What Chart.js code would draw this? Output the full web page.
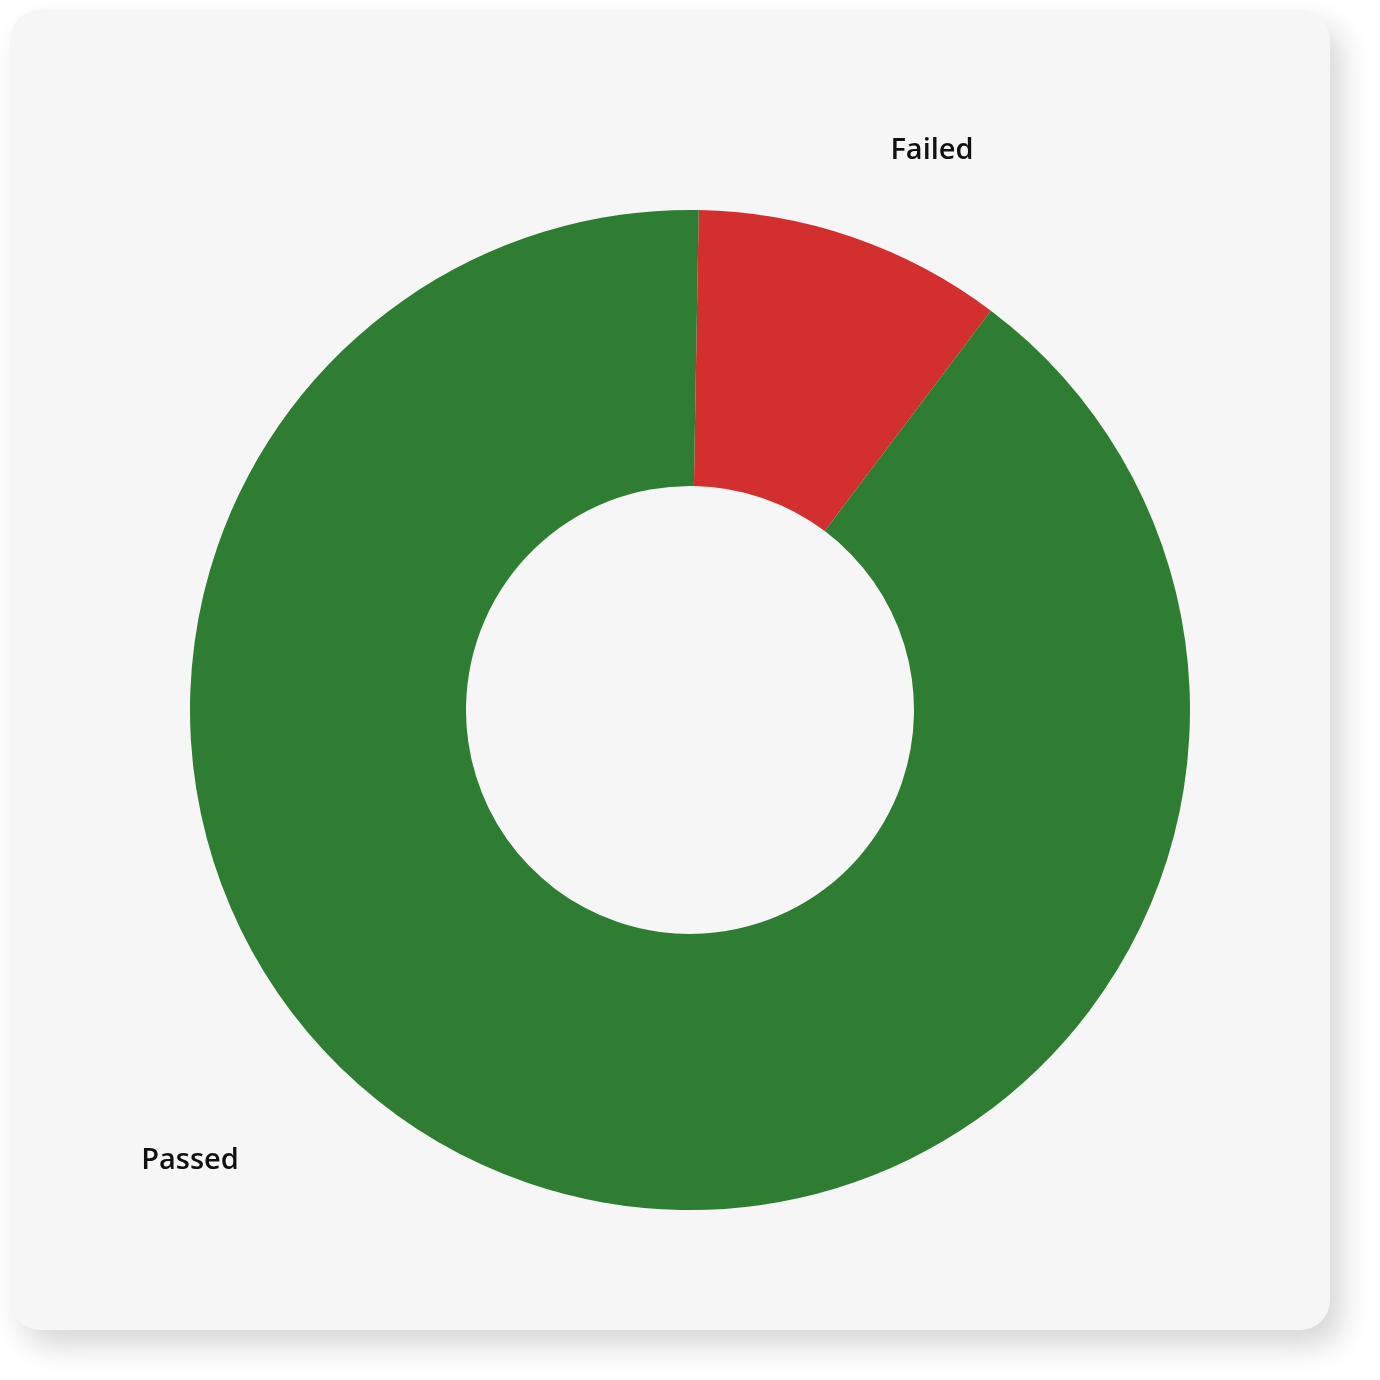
<!DOCTYPE html>
<html>
<head>
<meta charset="utf-8">
<script src="https://cdn.jsdelivr.net/npm/chart.js@4"></script>
<style>
    html, body { margin: 0; padding: 0; background: #ffffff; }
    .card {
        position: absolute;
        left: 10px; top: 10px;
        width: 1320px; height: 1320px;
        background: #f6f6f6;
        border-radius: 30px;
        box-shadow: 12px 16px 30px rgba(0, 0, 0, 0.16);
    }
    canvas { display: block; }
</style>
</head>
<body>
<div class="card"><canvas id="chart" width="1320" height="1320"></canvas></div>
<script>
const categories = ['Failed', 'Passed'];
const values = [10, 90];
const colors = ['#d32f2f', '#2e7d32'];

// label offsets as a fraction of the outer radius, from the chart centre
const labelOffsets = [[0.484, -1.118], [-1.0, 0.902]];

const outsideLabels = {
    id: 'outsideLabels',
    afterDraw(chart) {
        const arc = chart.getDatasetMeta(0).data[0];
        if (!arc) return;
        const { x, y, outerRadius } = arc.getProps(['x', 'y', 'outerRadius'], true);
        const ctx = chart.ctx;
        ctx.save();
        ctx.font = '600 29px "Open Sans", "Noto Sans", sans-serif';
        ctx.fillStyle = '#111111';
        ctx.textAlign = 'center';
        ctx.textBaseline = 'middle';
        categories.forEach((label, i) => {
            const [fx, fy] = labelOffsets[i];
            ctx.fillText(label, x + fx * outerRadius, y + fy * outerRadius);
        });
        ctx.restore();
    }
};

document.addEventListener('DOMContentLoaded', () => {
    const ctx = document.getElementById('chart').getContext('2d');
    _ = new Chart(ctx, {
        type: 'doughnut',
        data: {
            labels: categories,
            datasets: [{
                data: values,
                backgroundColor: colors,
                borderWidth: 0
            }]
        },
        options: {
            responsive: false,
            animation: false,
            cutout: '44.8%',
            rotation: 1,
            layout: { padding: { left: 180, right: 140, top: 200, bottom: 120 } },
            plugins: {
                legend: { display: false },
                tooltip: { enabled: false }
            }
        },
        plugins: [outsideLabels]
    });
});
</script>
</body>
</html>
